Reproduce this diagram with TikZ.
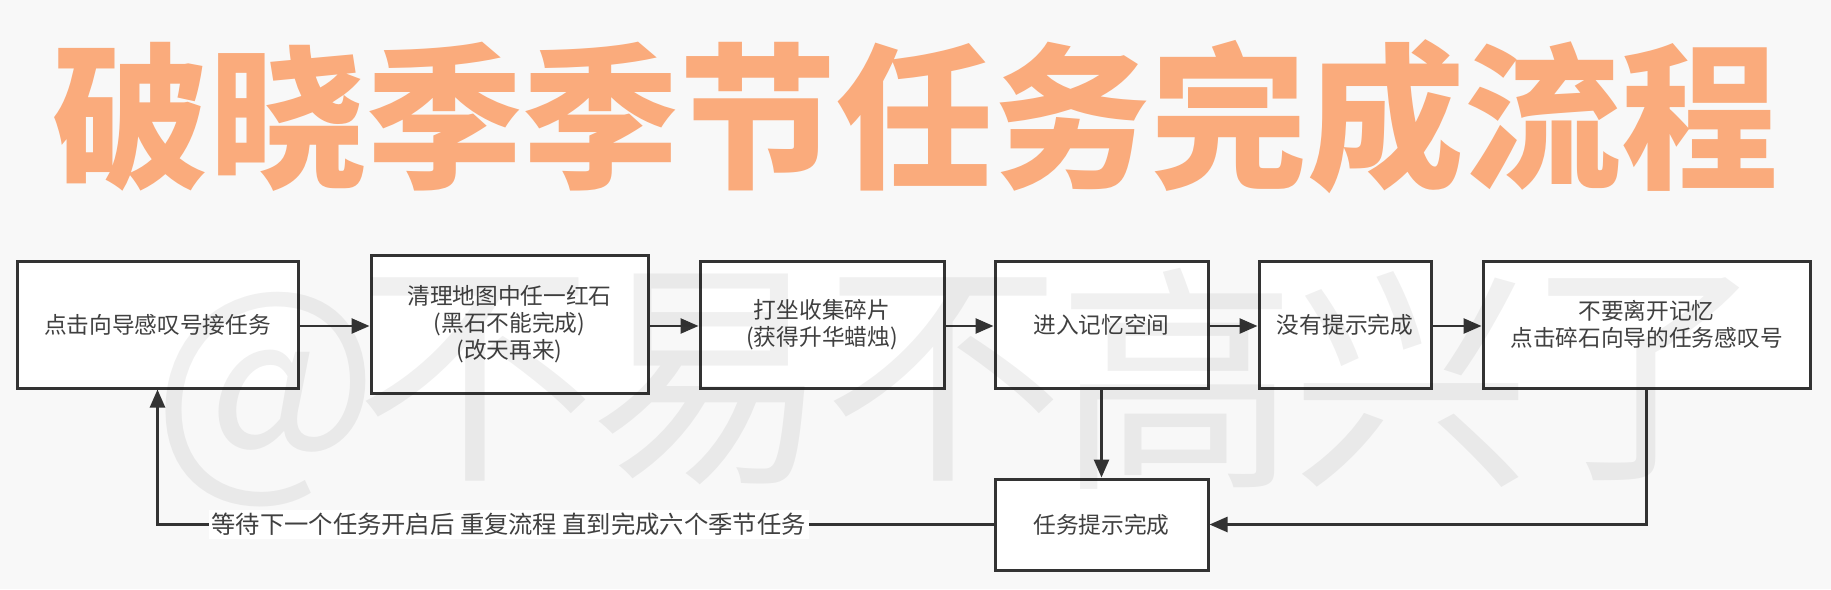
\documentclass[tikz,border=0pt]{standalone}
\usepackage{fontspec}
\usetikzlibrary{arrows.meta}
\newfontfamily\cjk{Noto Sans CJK SC}
\definecolor{bgc}{HTML}{F8F8F8}
\definecolor{titlec}{HTML}{FAAB7C}
\definecolor{linec}{HTML}{333333}
\definecolor{txtc}{HTML}{404040}
\tikzset{
  stepbox/.style={draw=linec, fill=white, line width=3pt, inner sep=0pt, align=center,
    text=txtc, font=\cjk\fontsize{22.7}{27}\selectfont},
  conn/.style={draw=linec, line width=2.6pt, -{Triangle[length=18pt,width=15pt]}},
  wm/.style={text=black, text opacity=0.06, inner sep=0pt, font=\cjk\fontsize{240}{240}\selectfont},
}
\begin{document}
\begin{tikzpicture}[x=1pt,y=-1pt]
\fill[bgc] (0,0) rectangle (1831,589);
\useasboundingbox (0,0) rectangle (1831,589);
% title
\node[inner sep=0pt, text=titlec, font=\cjk\bfseries\fontsize{157}{157}\selectfont] (title) at (915.5,117) {破晓季季节任务完成流程};
% boxes
\node[stepbox, minimum width=281pt, minimum height=127pt] (b1) at (157.5,324.5) {点击向导感叹号接任务};
\node[stepbox, minimum width=277pt, minimum height=138pt] (b2) at (509.5,324) {清理地图中任一红石\\(黑石不能完成)\\(改天再来)};
\node[stepbox, minimum width=244pt, minimum height=127pt] (b3) at (822,324.5) {打坐收集碎片\\(获得升华蜡烛)};
\node[stepbox, minimum width=213pt, minimum height=127pt] (b4) at (1101.5,324.5) {进入记忆空间};
\node[stepbox, minimum width=172pt, minimum height=127pt] (b5) at (1345,324.5) {没有提示完成};
\node[stepbox, minimum width=327pt, minimum height=127pt] (b6) at (1646.5,324.5) {不要离开记忆\\点击碎石向导的任务感叹号};
\node[stepbox, minimum width=213pt, minimum height=91pt] (b7) at (1101.5,524.5) {任务提示完成};
% connectors
\draw[conn] (b1.east |- 0,326) -- (b2.west |- 0,326);
\draw[conn] (b2.east |- 0,326) -- (b3.west |- 0,326);
\draw[conn] (b3.east |- 0,326) -- (b4.west |- 0,326);
\draw[conn] (b4.east |- 0,326) -- (b5.west |- 0,326);
\draw[conn] (b5.east |- 0,326) -- (b6.west |- 0,326);
\draw[conn] (b4.south) -- (b7.north);
\coordinate (rc) at (b6.south |- b7.east);
\draw[conn] (b6.south) -- (rc) -- (b7.east);
\coordinate (lc) at (b1.south |- b7.west);
\draw[conn] (b7.west) -- node[pos=0.58, fill=white, inner sep=3pt, text=txtc, font=\cjk\fontsize{24.3}{28}\selectfont] (lbl) {等待下一个任务开启后 重复流程 直到完成六个季节任务} (lc) -- (b1.south);
% watermark
\node[wm] (w0) at (266,400) {@};
\node[wm] (w1) at (475,379) {不};
\node[wm] (w2) at (709,379) {易};
\node[wm] (w3) at (943,379) {不};
\node[wm] (w4) at (1177,379) {高};
\node[wm] (w5) at (1411,379) {兴};
\node[wm] (w6) at (1645,379) {了};
\end{tikzpicture}
\end{document}
